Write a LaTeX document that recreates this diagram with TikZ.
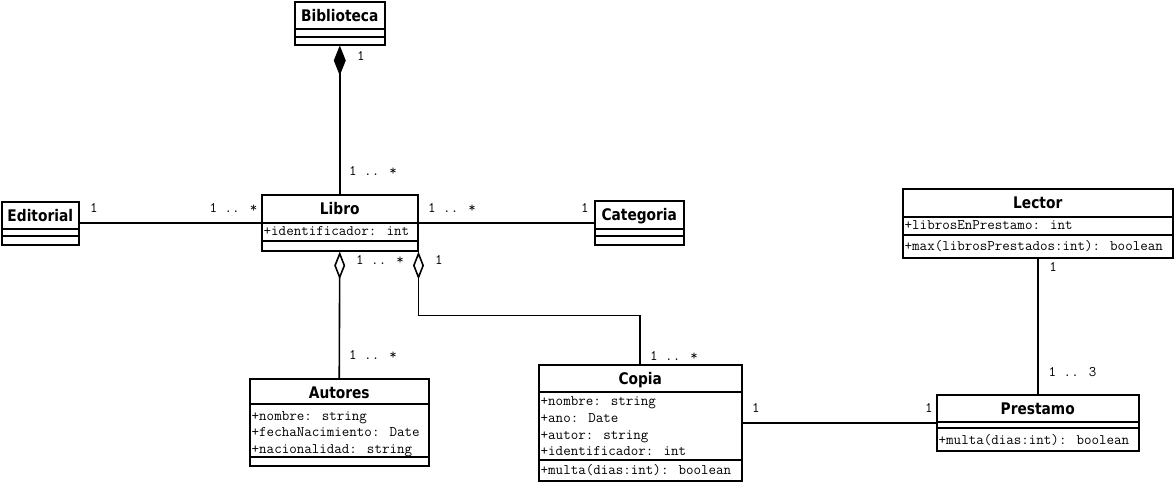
\documentclass[tikz,border=0pt]{standalone}
\usepackage{fontspec}
\newfontfamily\classfont[FakeStretch=0.86]{DejaVu Sans}
\usetikzlibrary{arrows.meta,positioning,calc}
\newcommand{\titlesize}{\fontsize{16}{18}\selectfont}
\newcommand{\membsize}{\fontsize{14.6}{16.4}\selectfont}
\tikzset{
  classbox/.style={draw,line width=1.5pt,inner sep=0pt,anchor=north west},
  classname/.style={font=\classfont\bfseries\titlesize,inner sep=0pt,text height=11.6pt,text depth=0pt},
  member/.style={font=\ttfamily\membsize,inner sep=0pt,anchor=west,text height=9pt,text depth=3pt},
  mult/.style={font=\ttfamily\membsize,inner sep=0pt,text height=9pt,text depth=0pt},
  compart/.style={line width=1.5pt},
  assoc/.style={line width=1.6pt},
}

\begin{document}
\begin{tikzpicture}[x=1pt,y=-1pt]
  \fill[white] (0,0) rectangle (1176,482);
  \useasboundingbox (0,0) rectangle (1176,482);

  % class boxes
  \node[classbox,minimum width=90pt,minimum height=43pt] (biblioteca) at (294,1) {};
  \node[classbox,minimum width=77pt,minimum height=43pt] (editorial) at (1,201) {};
  \node[classbox,minimum width=156pt,minimum height=56pt] (libro) at (261,194) {};
  \node[classbox,minimum width=89pt,minimum height=44pt] (categoria) at (594,200) {};
  \node[classbox,minimum width=270pt,minimum height=69pt] (lector) at (902,188) {};
  \node[classbox,minimum width=179pt,minimum height=87pt] (autores) at (249,378) {};
  \node[classbox,minimum width=203pt,minimum height=116pt] (copia) at (538,364) {};
  \node[classbox,minimum width=202pt,minimum height=56pt] (prestamo) at (936,394) {};

  % compartments
  \foreach \n/\a/\b in {biblioteca/28/36,editorial/28/35,libro/29/47,categoria/29/36,
                        lector/29/47,autores/26/79,copia/28/96,prestamo/28/34} {
    \draw[compart] ($(\n.north west)+(0,\a)$) -- ($(\n.north east)+(0,\a)$);
    \draw[compart] ($(\n.north west)+(0,\b)$) -- ($(\n.north east)+(0,\b)$);
  }

  % class names
  \foreach \n/\t in {biblioteca/Biblioteca,editorial/Editorial,libro/Libro,categoria/Categoria,
                     lector/Lector,autores/Autores,copia/Copia,prestamo/Prestamo}
    \node[classname] (\n-name) at ($(\n.north)+(0,14.5)$) {\t};

  % members
  \node[member] (libro-a1) at ($(libro.north west)+(2.5,38)$) {+identificador: int};
  \node[member] (lector-a1) at ($(lector.north west)+(2.5,38.7)$) {+librosEnPrestamo: int};
  \node[member] (lector-m1) at ($(lector.north west)+(2.5,59.7)$) {+max(librosPrestados:int): boolean};
  \foreach \t [count=\i] in {+nombre: string,+fechaNacimiento: Date,+nacionalidad: string}
    \node[member] (autores-a\i) at ($(autores.north west)+(2.5,23.5+16.2*\i)$) {\t};
  \foreach \t [count=\i] in {+nombre: string,+ano: Date,+autor: string,+identificador: int}
    \node[member] (copia-a\i) at ($(copia.north west)+(2.5,22.2+16.6*\i)$) {\t};
  \node[member] (copia-m1) at ($(copia.north west)+(2.5,107.7)$) {+multa(dias:int): boolean};
  \node[member] (prestamo-m1) at ($(prestamo.north west)+(2.5,47)$) {+multa(dias:int): boolean};

  % associations
  \draw[assoc,{Diamond[length=30pt,width=12pt]}-] (biblioteca.south) -- (libro.north);
  \draw[assoc] (editorial.east) -- (editorial.east -| libro.west);
  \draw[assoc] (libro.east) -- (libro.east -| categoria.west);
  \draw[assoc,{Diamond[open,length=28pt,width=11pt]}-] (libro.south) -- (autores.north);
  \draw[assoc,{Diamond[open,length=28pt,width=11pt]}-] (libro.south east) -- ++(0,64) -| (copia.north);
  \draw[assoc] (copia.east) -- (copia.east -| prestamo.west);
  \draw[assoc] (lector.south) -- (lector.south |- prestamo.north);

  % multiplicities
  \node[mult] (m-bib) at (361,56) {1};
  \node[mult] (m-libtop) at (373,171) {1 .. *};
  \node[mult] (m-edi) at (94,208) {1};
  \node[mult] (m-libleft) at (233.5,208) {1 .. *};
  \node[mult] (m-libright) at (452,208) {1 .. *};
  \node[mult] (m-cat) at (585,208) {1};
  \node[mult] (m-libaut) at (380,260) {1 .. *};
  \node[mult] (m-libcop) at (439,260) {1};
  \node[mult] (m-aut) at (373,355) {1 .. *};
  \node[mult] (m-cop) at (674,356) {1 .. *};
  \node[mult] (m-copres) at (756,408) {1};
  \node[mult] (m-prescop) at (929,408) {1};
  \node[mult] (m-lec) at (1053,267) {1};
  \node[mult] (m-pres) at (1072.5,372) {1 .. 3};
\end{tikzpicture}
\end{document}
